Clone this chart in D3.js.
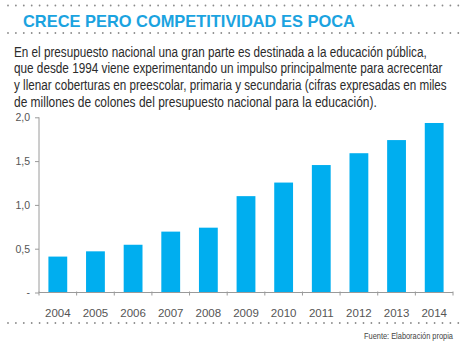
<!DOCTYPE html>
<html><head><meta charset="utf-8">
<script src="https://cdn.jsdelivr.net/npm/d3@7"></script>
<style>body{margin:0;background:#fff}svg{display:block}</style>
</head><body><svg id="c" width="470" height="349"></svg>
<script>
const years = ["2004","2005","2006","2007","2008","2009","2010","2011","2012","2013","2014"];
const values = [0.41,0.47,0.545,0.695,0.74,1.10,1.255,1.455,1.59,1.74,1.935];
const yTicks = [0,0.5,1.0,1.5,2.0];
const yTickLabels = ["-","0,5","1,0","1,5","2,0"];
const title = "CRECE PERO COMPETITIVIDAD ES POCA";
const bodyLines = [
 "En el presupuesto nacional una gran parte es destinada a la educación pública,",
 "que desde 1994 viene experimentando un impulso principalmente para acrecentar",
 "y llenar coberturas en preescolar, primaria y secundaria (cifras expresadas en miles",
 "de millones de colones del presupuesto nacional para la educación)."
];
const source = "Fuente: Elaboración propia";

const svg = d3.select("#c");
const blue = "#00aeef";
const font = "'Liberation Sans', Arial, sans-serif";

// condensed text: natural text squeezed horizontally to a target width
function squeezed(xLeft, yBase, str, size, weight, fill, targetW, anchorEnd) {
  const g = svg.append("g");
  const t = g.append("text").attr("font-family", font).attr("font-size", size)
    .attr("font-weight", weight).attr("fill", fill).text(str);
  const w = t.node().getComputedTextLength();
  const s = targetW / w;
  const x0 = anchorEnd ? xLeft - targetW : xLeft;
  g.attr("transform", `translate(${x0},${yBase}) scale(${s},1)`);
  return g;
}

// dotted rules
[5.5, 33, 323].forEach(y => {
  const dots = d3.range(8, 462, 7.9);
  svg.append("g").selectAll("circle").data(dots).join("circle")
    .attr("cx", d => d).attr("cy", y).attr("r", 0.9).attr("fill", "#8a8a8a");
});

squeezed(23, 27, title, 17, "bold", "#1ba3e0", 332, false);

const bodyW = [413, 429, 433, 363];
bodyLines.forEach((t, i) => {
  squeezed(14, 56.5 + i * 16.8, t, 14.5, "normal", "#2b2b2b", bodyW[i], false);
});

const x = d3.scaleBand().domain(years).range([39, 453]).paddingInner(0.5).paddingOuter(0.25);
const y = d3.scaleLinear().domain([0, 2]).range([292.5, 117.3]);

svg.append("g").selectAll("rect").data(values).join("rect")
  .attr("x", (d, i) => x(years[i])).attr("width", x.bandwidth())
  .attr("y", d => y(d)).attr("height", d => y(0) - y(d)).attr("fill", blue);

const axisColor = "#9a9a9a";
// y axis
const ya = svg.append("g").attr("transform", "translate(39,0)")
  .call(d3.axisLeft(y).tickValues(yTicks).tickFormat((d, i) => yTickLabels[i]).tickSize(4).tickPadding(5));
ya.select(".domain").attr("stroke", axisColor).attr("d", `M0,${y(0)}V${y(2)}`);
ya.selectAll(".tick line").attr("stroke", axisColor);
ya.selectAll("text").attr("fill", "#555").attr("font-size", 10.5).attr("font-family", font);

// x axis
const xa = svg.append("g").attr("transform", `translate(0,${y(0)})`)
  .call(d3.axisBottom(x).tickSize(0).tickPadding(16));
xa.select(".domain").attr("stroke", axisColor).attr("d", "M39,0H453");
xa.selectAll("text").attr("fill", "#555").attr("font-size", 11.5).attr("font-family", font);
const step = x.step();
const bounds = d3.range(0, years.length + 1).map(i => 39 + i * step);
xa.append("g").selectAll("line").data(bounds).join("line")
  .attr("x1", d => d).attr("x2", d => d).attr("y1", -1).attr("y2", 3).attr("stroke", axisColor);

squeezed(453, 339, source, 9.5, "normal", "#444", 89, true);
</script></body></html>
